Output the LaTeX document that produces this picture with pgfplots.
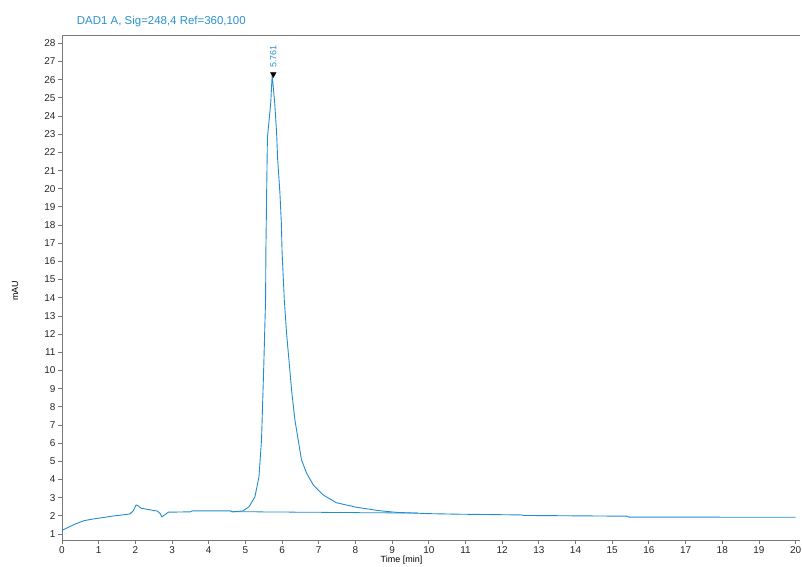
\documentclass[border=0pt]{standalone}
\usepackage{pgfplots}
\pgfplotsset{compat=1.18}
\usepackage{fontspec}
\setmainfont{Liberation Sans}
\definecolor{trace}{RGB}{35,140,205}
\definecolor{ttl}{RGB}{40,145,205}
\definecolor{axgray}{RGB}{120,120,120}
\begin{document}
\begin{tikzpicture}[x=1bp,y=1bp]
\useasboundingbox (0,0) rectangle (802,567);
\begin{axis}[
  at={(62bp,27bp)}, anchor=south west,
  scale only axis, width=738bp, height=505bp,
  xmin=0, xmax=20.12, ymin=0.67, ymax=28.46,
  axis x line=bottom, axis y line=left,
  axis line style={axgray, -},
  xtick={0,1,...,20}, ytick={1,2,...,28},
  tick style={axgray, line width=0.8pt},
  major tick length=4bp,
  xtick align=outside, ytick align=outside,
  tick label style={font=\fontsize{10}{11}\selectfont, text=black!85},
  /pgf/number format/assume math mode=true,
  xticklabel style={yshift=1bp},
  yticklabel style={xshift=1bp},
  clip=false,
]
\draw[axgray] (rel axis cs:0,1) -- (rel axis cs:1,1);
\addplot[trace, line width=0.9pt] coordinates {
(0,1.2) (0.2,1.4) (0.4,1.58) (0.6,1.73) (0.8,1.81) (1.0,1.87) (1.2,1.93) (1.4,1.99) (1.6,2.04) (1.85,2.1)
(1.95,2.3) (2.02,2.6) (2.08,2.55) (2.15,2.42) (2.4,2.33) (2.6,2.26) (2.68,2.12) (2.72,1.95) (2.8,2.05) (2.9,2.2)
(3.5,2.22) (3.55,2.27) (4.6,2.27) (4.65,2.22) (4.93,2.27) (5.1,2.5) (5.26,3.05) (5.37,4.15) (5.44,6.2) (5.50,10.2)
(5.55,13.9) (5.56,16.8) (5.58,19.9) (5.60,22.8) (5.69,24.7) (5.73,26.26) (5.80,24.7) (5.85,23.1) (5.88,21.6) (5.94,19.8)
(5.98,18.1) (6.00,16.5) (6.06,13.9) (6.12,12.1) (6.26,8.9) (6.35,7.27) (6.44,6.17) (6.53,5.07) (6.67,4.34) (6.85,3.70)
(7.12,3.15) (7.48,2.72) (8.03,2.47) (8.66,2.28) (9.12,2.19)
(10,2.12) (10.8,2.09) (12.5,2.05) (12.6,2.02) (15.4,1.98) (15.45,1.93) (20,1.92)
};
\addplot[trace, line width=0.8pt] coordinates {(4.6,2.23) (9.7,2.15)};
\addplot[only marks, mark=triangle*, mark size=3.2bp, mark options={rotate=180, fill=black, draw=black}] coordinates {(5.761,26.3)};
\node[rotate=90, anchor=west, text=ttl, font=\fontsize{9}{10}\selectfont, inner sep=1bp] at (axis cs:5.761,26.6) {5.761};
\node[anchor=south west, text=ttl, font=\fontsize{11.5}{12}\selectfont, inner sep=0pt] at (rel axis cs:0.02,1.015) {DAD1 A, Sig=248,4 Ref=360,100};
\node[rotate=90, font=\fontsize{9}{10}\selectfont] at ([xshift=-47bp]rel axis cs:0,0.494) {mAU};
\node[anchor=north, font=\fontsize{9}{10}\selectfont, inner sep=0pt] at ([yshift=-16bp]rel axis cs:0.46,0) {Time [min]};
\end{axis}
\end{tikzpicture}
\end{document}
